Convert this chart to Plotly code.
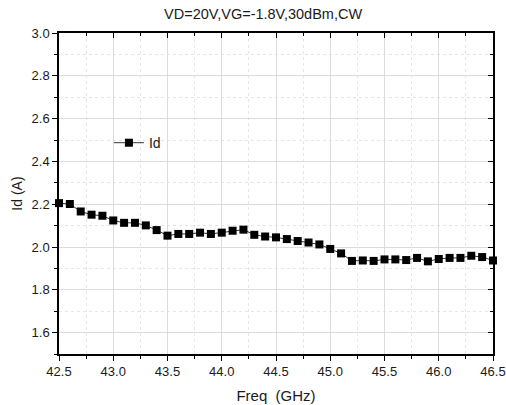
import plotly.graph_objects as go

freq = [42.5, 42.6, 42.7, 42.8, 42.9, 43.0, 43.1, 43.2, 43.3, 43.4, 43.5, 43.6, 43.7, 43.8,
        43.9, 44.0, 44.1, 44.2, 44.3, 44.4, 44.5, 44.6, 44.7, 44.8, 44.9, 45.0, 45.1, 45.2,
        45.3, 45.4, 45.5, 45.6, 45.7, 45.8, 45.9, 46.0, 46.1, 46.2, 46.3, 46.4, 46.5]
id_a = [2.205, 2.201, 2.166, 2.151, 2.146, 2.124, 2.113, 2.113, 2.101, 2.079, 2.053, 2.061,
        2.061, 2.067, 2.061, 2.067, 2.076, 2.081, 2.057, 2.049, 2.045, 2.037, 2.028, 2.021,
        2.012, 1.991, 1.970, 1.935, 1.937, 1.935, 1.942, 1.942, 1.939, 1.949, 1.933, 1.944,
        1.949, 1.949, 1.959, 1.953, 1.937]
x_ticks = [42.5, 43.0, 43.5, 44.0, 44.5, 45.0, 45.5, 46.0, 46.5]
y_ticks = [1.6, 1.8, 2.0, 2.2, 2.4, 2.6, 2.8, 3.0]

FAM = "Liberation Sans, Arial, sans-serif"
font = dict(family=FAM, color="#1a1a1a", size=13)

fig = go.Figure()
fig.add_trace(go.Scatter(
    x=freq, y=id_a, mode="lines+markers", name="Id",
    line=dict(color="black", width=0.8),
    marker=dict(symbol="square", size=8, color="black"),
    cliponaxis=False,
))
# invisible trace for mirrored top/right axes
fig.add_trace(go.Scatter(x=freq, y=id_a, xaxis="x2", yaxis="y2", mode="markers",
                         marker=dict(opacity=0), showlegend=False, hoverinfo="skip"))

axis_common = dict(showline=True, linecolor="black", linewidth=1.5,
                   tickcolor="black", ticklen=5, tickwidth=1.3, zeroline=False,
                   automargin=False)

fig.update_layout(
    width=506, height=405,
    margin=dict(l=59, r=13, t=33, b=51),
    paper_bgcolor="white", plot_bgcolor="white",
    font=font,
    title=dict(text="VD=20V,VG=-1.8V,30dBm,CW", x=0.52, xanchor="center",
               y=0.966, yanchor="middle", font=dict(size=14.5, color="#1a1a1a", family=FAM)),
    xaxis=dict(range=[42.5, 46.5], tickvals=x_ticks, ticktext=[f"{v:.1f}" for v in x_ticks],
               ticks="outside", showgrid=True, gridcolor="#dcdcdc", gridwidth=1,
               minor=dict(dtick=0.25, tick0=42.5, ticks="outside", ticklen=3, tickcolor="black",
                          showgrid=True, gridcolor="#e6e6e6", griddash="dot"),
               title=dict(text="Freq\u00a0\u00a0(GHz)", font=dict(size=15, color="#1a1a1a"),
                          standoff=12),
               tickfont=font, **axis_common),
    yaxis=dict(range=[1.5, 3.0], tickvals=y_ticks, ticktext=[f"{v:.1f}" for v in y_ticks],
               ticks="outside", showgrid=True, gridcolor="#dcdcdc", gridwidth=1,
               minor=dict(dtick=0.1, tick0=1.5, ticks="outside", ticklen=3, tickcolor="black",
                          showgrid=True, gridcolor="#e6e6e6", griddash="dot"),
               title=dict(text="Id (A)", font=dict(size=14, color="#1a1a1a"), standoff=6),
               tickfont=font, **axis_common),
    xaxis2=dict(overlaying="x", side="top", matches="x", range=[42.5, 46.5],
                tickvals=x_ticks, ticks="inside", showticklabels=False, showgrid=False,
                minor=dict(dtick=0.25, tick0=42.5, ticks="inside", ticklen=3, tickcolor="black"),
                anchor="y2", **axis_common),
    yaxis2=dict(overlaying="y", side="right", matches="y", range=[1.5, 3.0],
                tickvals=y_ticks, ticks="inside", showticklabels=False, showgrid=False,
                minor=dict(dtick=0.1, tick0=1.5, ticks="inside", ticklen=3, tickcolor="black"),
                anchor="x2", **axis_common),
    legend=dict(x=0.115, y=0.657, xanchor="left", yanchor="middle",
                bgcolor="rgba(0,0,0,0)", font=dict(size=14, color="#1a1a1a")),
    showlegend=True,
)

fig.write_html("out.html", config={"displayModeBar": False},
               post_script="document.body.style.margin='0px';")
